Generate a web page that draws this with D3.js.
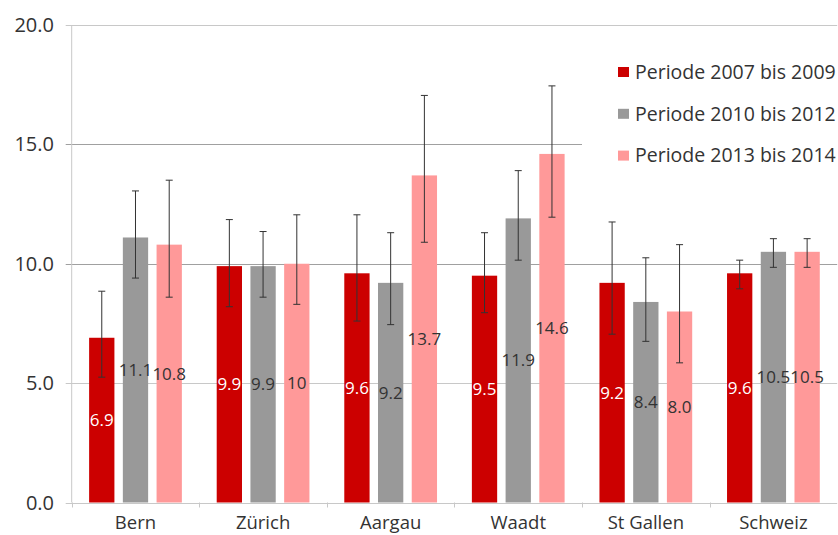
<!DOCTYPE html>
<html>
<head>
<meta charset="utf-8">
<script src="https://cdn.jsdelivr.net/npm/d3@7"></script>
<style>
  body { margin: 0; background: #fff; }
  text { font-family: "Open Sans", sans-serif; fill: #333; }
</style>
</head>
<body>
<script>
// categories and series
var regions = ["Bern", "Zürich", "Aargau", "Waadt", "St Gallen", "Schweiz"];
var periods = ["Periode 2007 bis 2009", "Periode 2010 bis 2012", "Periode 2013 bis 2014"];

// values per period (same order as regions)
var p2007 = [6.9, 9.9, 9.6, 9.5, 9.2, 9.6];
var p2010 = [11.1, 9.9, 9.2, 11.9, 8.4, 10.5];
var p2013 = [10.8, 10.0, 13.7, 14.6, 8.0, 10.5];

// labels as printed on the bars
var lab2007 = ["6.9", "9.9", "9.6", "9.5", "9.2", "9.6"];
var lab2010 = ["11.1", "9.9", "9.2", "11.9", "8.4", "10.5"];
var lab2013 = ["10.8", "10", "13.7", "14.6", "8.0", "10.5"];

// confidence intervals (low / high)
var low2007 = [5.25, 8.2, 7.6, 7.95, 7.05, 8.95];
var high2007 = [8.85, 11.85, 12.05, 11.3, 11.75, 10.15];
var low2010 = [9.4, 8.6, 7.45, 10.15, 6.75, 9.85];
var high2010 = [13.05, 11.35, 11.3, 13.9, 10.25, 11.05];
var low2013 = [8.6, 8.3, 10.9, 11.95, 5.85, 9.85];
var high2013 = [13.5, 12.05, 17.05, 17.45, 10.8, 11.05];

var yTicks = [0, 5, 10, 15, 20];

var colors = ["#cc0000", "#999999", "#ff9999"];
var labelColors = ["#ffffff", "#333333", "#333333"];

const w = 838;
const h = 535;
const padLeft = 71.7, padRight = 837.2, padTop = 25, padBottom = 502.5;

var values = [p2007, p2010, p2013];
var labels = [lab2007, lab2010, lab2013];
var lows = [low2007, low2010, low2013];
var highs = [high2007, high2010, high2013];

// build a flat list for drawing
var bars = [];
regions.forEach(function(r, i) {
  periods.forEach(function(p, j) {
    bars.push({region: r, period: p, s: j, v: values[j][i], lab: labels[j][i],
               lo: lows[j][i], hi: highs[j][i]});
  });
});

var svg = d3.select("body").append("svg")
            .attr("width", w)
            .attr("height", h);

var x0 = d3.scaleBand().domain(regions).range([padLeft, padRight]);
var x1 = d3.scaleBand().domain(periods).range([0, x0.bandwidth()])
           .paddingInner(0.25).paddingOuter(0.5165);
var y = d3.scaleLinear().domain([0, 20]).range([padBottom, padTop]);

// gridlines
svg.append("g")
   .selectAll("line")
   .data(yTicks.filter(function(d) { return d > 0; }))
   .enter()
   .append("line")
   .attr("x1", padLeft - 6)
   .attr("x2", padRight)
   .attr("y1", function(d) { return Math.round(y(d)) + 0.5; })
   .attr("y2", function(d) { return Math.round(y(d)) + 0.5; })
   .attr("stroke", function(d) { return (d === 10 || d === 15) ? "#a0a0a0" : "#c8c8c8"; })
   .attr("stroke-width", 1);

// y axis line
svg.append("line")
   .attr("x1", padLeft).attr("x2", padLeft)
   .attr("y1", padTop).attr("y2", padBottom)
   .attr("stroke", "#c8c8c8");

// y tick labels
svg.append("g")
   .selectAll("text")
   .data(yTicks)
   .enter()
   .append("text")
   .attr("x", 54)
   .attr("y", function(d) { return y(d); })
   .attr("dy", "0.35em")
   .attr("text-anchor", "end")
   .style("font-size", "20px")
   .text(function(d) { return d3.format(".1f")(d); });

// legend (white box hides the gridline behind it)
var legend = svg.append("g");
legend.append("rect")
      .attr("x", 582).attr("y", 45)
      .attr("width", 256).attr("height", 130)
      .attr("fill", "#fff");
var legendRows = legend.selectAll("g.row")
      .data(periods)
      .enter()
      .append("g")
      .attr("class", "row")
      .attr("transform", function(d, i) { return "translate(618," + (72 + i * 41.8) + ")"; });
legendRows.append("rect")
      .attr("x", 0).attr("y", -5)
      .attr("width", 11).attr("height", 10)
      .attr("fill", function(d, i) { return colors[i]; });
legendRows.append("text")
      .attr("x", 17)
      .attr("dy", "0.35em")
      .style("font-size", "19.5px")
      .text(function(d) { return d; });

// bars
var groups = svg.append("g")
   .selectAll("g")
   .data(bars)
   .enter()
   .append("g")
   .attr("transform", function(d) { return "translate(" + (x0(d.region) + x1(d.period)) + ",0)"; });

groups.append("rect")
   .attr("x", 0)
   .attr("y", function(d) { return y(d.v); })
   .attr("width", x1.bandwidth())
   .attr("height", function(d) { return y(0) - y(d.v); })
   .attr("fill", function(d) { return colors[d.s]; });

// value labels in the middle of the bar
groups.append("text")
   .attr("x", x1.bandwidth() / 2)
   .attr("y", function(d) { return y(d.v / 2); })
   .attr("dy", "0.35em")
   .attr("text-anchor", "middle")
   .style("font-size", "17px")
   .style("fill", function(d) { return labelColors[d.s]; })
   .text(function(d) { return d.lab; });

// error bars
var cx = x1.bandwidth() / 2;
groups.append("line")
   .attr("x1", cx).attr("x2", cx)
   .attr("y1", function(d) { return y(d.lo); })
   .attr("y2", function(d) { return y(d.hi); })
   .attr("stroke", "#333").attr("stroke-width", 1);
groups.append("line")
   .attr("x1", cx - 3.5).attr("x2", cx + 3.5)
   .attr("y1", function(d) { return y(d.lo); })
   .attr("y2", function(d) { return y(d.lo); })
   .attr("stroke", "#333").attr("stroke-width", 1);
groups.append("line")
   .attr("x1", cx - 3.5).attr("x2", cx + 3.5)
   .attr("y1", function(d) { return y(d.hi); })
   .attr("y2", function(d) { return y(d.hi); })
   .attr("stroke", "#333").attr("stroke-width", 1);

// x axis
svg.append("line")
   .attr("x1", padLeft - 6).attr("x2", padRight)
   .attr("y1", Math.round(padBottom) + 0.5).attr("y2", Math.round(padBottom) + 0.5)
   .attr("stroke", "#c8c8c8");
svg.append("g")
   .selectAll("line")
   .data(regions)
   .enter()
   .append("line")
   .attr("x1", function(d) { return Math.round(x0(d)) + 0.5; })
   .attr("x2", function(d) { return Math.round(x0(d)) + 0.5; })
   .attr("y1", padBottom).attr("y2", padBottom + 5)
   .attr("stroke", "#c8c8c8");
svg.append("g")
   .selectAll("text")
   .data(regions)
   .enter()
   .append("text")
   .attr("x", function(d) { return x0(d) + x0.bandwidth() / 2; })
   .attr("y", 529)
   .attr("text-anchor", "middle")
   .style("font-size", "18.5px")
   .text(function(d) { return d; });
</script>
</body>
</html>
